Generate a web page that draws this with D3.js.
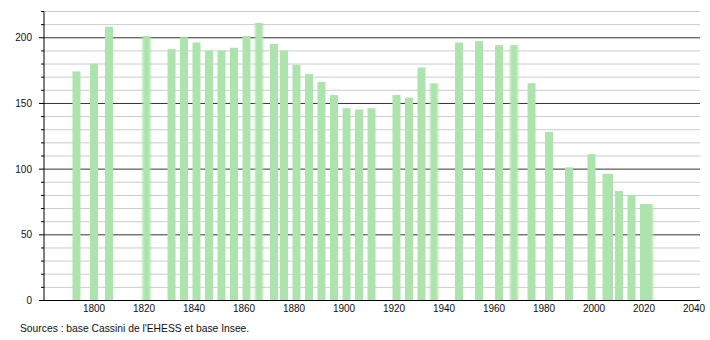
<!DOCTYPE html>
<html lang="fr">
<head>
<meta charset="utf-8">
<title>Population</title>
<script src="https://d3js.org/d3.v7.min.js"></script>
<style>
  body { margin: 0; background: #fff; }
  svg text { font-family: "Liberation Sans", Arial, sans-serif; font-size: 10px; fill: #111; }
</style>
</head>
<body>
<svg id="chart" width="710" height="340"></svg>
<script>
// census years and population
const years = [1793, 1800, 1806, 1821, 1831, 1836, 1841, 1846, 1851, 1856,
  1861, 1866, 1872, 1876, 1881, 1886, 1891, 1896, 1901, 1906,
  1911, 1921, 1926, 1931, 1936, 1946, 1954, 1962, 1968, 1975,
  1982, 1990, 1999, 2005, 2006, 2010, 2015, 2020, 2022];
const population = [174, 180, 208, 201, 191, 200, 196, 190, 190, 192,
  201, 211, 195, 190, 179, 172, 166, 156, 146, 145,
  146, 156, 154, 177, 165, 196, 197, 194, 194, 165,
  128, 101, 111, 96, 96, 83, 80, 73, 73];
// bars that look soft-edged in the source image
const softYears = [1821, 1866, 1936, 1968, 2022];
const xTicks = [1800, 1820, 1840, 1860, 1880, 1900, 1920, 1940, 1960, 1980, 2000, 2020, 2040];
const yMajor = [0, 50, 100, 150, 200];
const sourceText = "Sources : base Cassini de l'EHESS et base Insee.";

const data = years.map((y, i) => ({ year: y, pop: population[i] }));

const svg = d3.select("#chart");

const x = d3.scaleLinear().domain([1780, 2042.4]).range([44, 700]);
const y = d3.scaleLinear().domain([0, 220]).range([300, 11]);
const barW = x(1783.2) - x(1780);

const defs = svg.append("defs");
defs.append("filter")
    .attr("id", "soft")
    .attr("x", "-50%").attr("width", "200%")
  .append("feGaussianBlur")
    .attr("stdDeviation", "1.2 0.3");

// grid lines, every 10, darker every 50
const minor = d3.range(10, 221, 10).filter(v => v % 50 !== 0);
svg.append("g")
  .selectAll("line")
  .data(minor)
  .join("line")
    .attr("x1", x(1780)).attr("x2", 700)
    .attr("y1", d => y(d) + 0.5).attr("y2", d => y(d) + 0.5)
    .style("stroke", "#cccccc")
    .style("stroke-width", 1);

svg.append("g")
  .selectAll("line")
  .data(yMajor.filter(v => v > 0))
  .join("line")
    .attr("x1", x(1780)).attr("x2", 700)
    .attr("y1", d => y(d) + 0.5).attr("y2", d => y(d) + 0.5)
    .style("stroke", "#333333")
    .style("stroke-width", 1);

// bars
svg.append("g")
  .selectAll("rect")
  .data(data)
  .join("rect")
    .attr("x", d => x(d.year) - barW / 2)
    .attr("y", d => y(d.pop))
    .attr("width", barW)
    .attr("height", d => y(0) - y(d.pop))
    .attr("filter", d => softYears.includes(d.year) ? "url(#soft)" : null)
    .style("fill", "#ade4ad");

// y axis: long ticks every 50, short ones every 10
const yAxis = svg.append("g")
    .attr("transform", `translate(${x(1780)},0.5)`);
yAxis.append("line")
    .attr("y1", y(220)).attr("y2", y(0))
    .style("stroke", "#000");
yAxis.selectAll(".minor")
  .data(minor)
  .join("line")
    .attr("class", "minor")
    .attr("x1", -3).attr("x2", 0)
    .attr("y1", d => y(d)).attr("y2", d => y(d))
    .style("stroke", "#000");
yAxis.selectAll(".major")
  .data(yMajor)
  .join("line")
    .attr("class", "major")
    .attr("x1", -5).attr("x2", 0)
    .attr("y1", d => y(d)).attr("y2", d => y(d))
    .style("stroke", "#000");
yAxis.selectAll("text")
  .data(yMajor)
  .join("text")
    .attr("x", -12)
    .attr("y", d => y(d) + 3.5)
    .attr("text-anchor", "end")
    .text(d => d);

// x axis
svg.append("line")
    .attr("x1", x(1780) - 5).attr("x2", 700)
    .attr("y1", y(0) + 0.5).attr("y2", y(0) + 0.5)
    .style("stroke", "#000");

svg.append("g")
  .selectAll("text")
  .data(xTicks)
  .join("text")
    .attr("x", d => x(d))
    .attr("y", 312)
    .attr("text-anchor", "middle")
    .text(d => d);

svg.append("text")
    .attr("x", 20)
    .attr("y", 332)
    .style("font-size", "10.3px")
    .text(sourceText);
</script>
</body>
</html>
